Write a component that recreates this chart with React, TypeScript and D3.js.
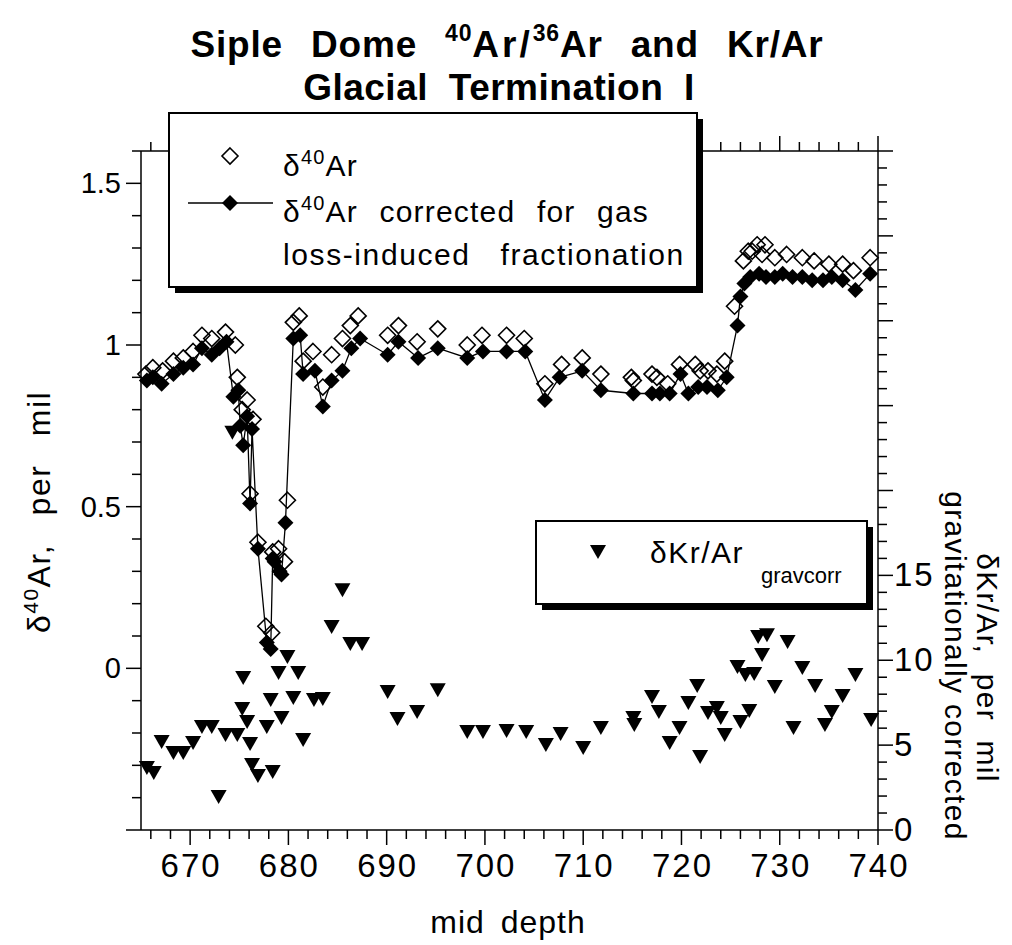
import React from "react";
import * as d3 from "d3";

// δ40Ar (uncorrected) – open diamonds
const rawDepth = [665.5, 666.2, 667.2, 668.3, 669.3, 670.3, 671.2, 672.2, 673.6, 674.6, 674.8, 675.8, 675.3, 676.4, 676.1, 676.9, 677.7, 678.3, 678.4, 679.0, 679.6, 679.9, 680.5, 681.1, 681.5, 682.5, 683.5, 684.4, 685.5, 686.3, 687.1, 690.1, 691.2, 693.1, 695.2, 698.2, 699.7, 702.2, 704.0, 706.1, 707.8, 709.9, 711.8, 714.9, 715.1, 717.0, 717.5, 718.6, 719.8, 721.4, 721.9, 722.7, 723.6, 724.4, 725.4, 726.3, 726.8, 727.2, 727.7, 728.2, 728.5, 729.5, 730.7, 732.3, 733.5, 735.0, 736.4, 737.5, 739.2];
const rawD40 = [0.91, 0.93, 0.92, 0.95, 0.96, 0.98, 1.03, 1.02, 1.04, 1.0, 0.9, 0.83, 0.8, 0.77, 0.54, 0.39, 0.13, 0.11, 0.36, 0.37, 0.33, 0.52, 1.07, 1.09, 0.95, 0.98, 0.87, 0.97, 1.02, 1.06, 1.09, 1.03, 1.06, 1.01, 1.05, 1.0, 1.03, 1.03, 1.02, 0.88, 0.94, 0.96, 0.91, 0.9, 0.89, 0.91, 0.9, 0.88, 0.94, 0.94, 0.92, 0.92, 0.91, 0.95, 1.12, 1.26, 1.29, 1.29, 1.31, 1.28, 1.31, 1.27, 1.28, 1.27, 1.26, 1.25, 1.25, 1.23, 1.27];

// δ40Ar corrected – filled diamonds joined by a line (data order)
const corrDepth = [665.6, 666.2, 667.1, 668.3, 669.3, 670.3, 671.2, 672.2, 673.0, 673.7, 674.4, 674.9, 675.1, 675.4, 675.8, 676.1, 676.3, 676.9, 677.8, 678.2, 678.4, 678.6, 679.1, 679.3, 679.7, 680.5, 681.2, 681.5, 682.7, 683.5, 684.4, 685.5, 686.4, 687.3, 690.1, 691.2, 693.2, 695.2, 698.2, 699.8, 702.2, 704.1, 706.1, 707.6, 709.9, 711.8, 715.1, 717.0, 717.8, 718.8, 719.9, 720.7, 721.7, 722.6, 723.7, 724.6, 725.7, 726.0, 726.4, 727.0, 727.9, 728.6, 729.5, 730.3, 731.3, 732.3, 733.3, 734.4, 735.3, 736.4, 737.7, 739.2];
const corrD40 = [0.89, 0.9, 0.88, 0.91, 0.93, 0.94, 0.99, 0.97, 0.99, 1.01, 0.84, 0.86, 0.75, 0.69, 0.78, 0.51, 0.74, 0.37, 0.08, 0.06, 0.34, 0.33, 0.3, 0.29, 0.45, 1.02, 1.03, 0.91, 0.92, 0.81, 0.89, 0.92, 0.99, 1.02, 0.97, 1.01, 0.96, 0.99, 0.96, 0.98, 0.98, 0.98, 0.83, 0.9, 0.92, 0.86, 0.85, 0.85, 0.85, 0.85, 0.91, 0.85, 0.87, 0.87, 0.86, 0.9, 1.06, 1.15, 1.19, 1.21, 1.22, 1.21, 1.21, 1.22, 1.21, 1.21, 1.2, 1.2, 1.21, 1.2, 1.17, 1.22];

// δKr/Ar gravcorr – triangles (right axis)
const krDepth = [665.6, 666.3, 667.1, 668.3, 669.3, 670.3, 671.2, 672.2, 672.9, 673.6, 674.3, 674.8, 675.3, 675.4, 675.8, 676.1, 676.3, 676.9, 677.8, 678.2, 678.4, 679.0, 679.3, 679.9, 680.5, 681.0, 681.5, 682.6, 683.5, 684.4, 685.5, 686.3, 687.5, 690.1, 691.1, 693.1, 695.2, 698.2, 699.8, 702.2, 704.2, 706.2, 707.7, 710.0, 711.8, 715.1, 715.2, 717.0, 717.7, 718.8, 719.8, 720.7, 721.6, 721.9, 722.7, 723.6, 724.0, 724.4, 725.7, 726.0, 726.5, 726.9, 727.4, 727.8, 728.2, 728.7, 729.5, 730.8, 731.4, 732.3, 733.6, 734.6, 735.3, 736.4, 737.7, 739.3];
const krAr = [3.65, 3.36, 5.18, 4.53, 4.53, 5.12, 6.07, 6.07, 1.94, 5.59, 23.4, 5.59, 7.13, 8.95, 6.36, 5.06, 3.83, 3.18, 6.07, 7.66, 3.42, 9.25, 6.6, 10.19, 7.77, 9.25, 5.3, 7.66, 7.71, 11.96, 14.13, 10.95, 10.95, 8.13, 6.54, 6.95, 8.24, 5.77, 5.77, 5.83, 5.77, 5.01, 5.65, 4.83, 6.01, 6.6, 6.18, 7.83, 6.95, 5.12, 6.01, 7.48, 8.48, 4.3, 6.89, 7.18, 6.6, 5.59, 9.6, 6.36, 9.13, 7.01, 9.19, 11.37, 10.31, 11.48, 8.42, 11.07, 6.01, 9.54, 8.48, 6.18, 6.95, 7.89, 9.13, 6.48];

// axes ticks & labels
const xTicks = d3.range(666, 741, 2);
const xLabels = [670, 680, 690, 700, 710, 720, 730, 740];
const yLTicks = d3.range(-5, 17).map((v) => v / 10);
const yLLabels = [0, 0.5, 1, 1.5];
const yRTicks = d3.range(0, 41);
const yRLabels = [0, 5, 10, 15];

const NARROW = "'Liberation Sans Narrow', 'Liberation Sans', Arial, sans-serif";
const REG = "'Liberation Sans', Arial, sans-serif";

export default function App() {
  const W = 1012;
  const H = 945;
  const x = d3.scaleLinear().domain([665, 740]).range([141, 878]);
  const yL = d3.scaleLinear().domain([-0.5, 1.6]).range([830, 151]);
  const yR = d3.scaleLinear().domain([0, 40]).range([830, 151]);
  const [x0, x1] = x.range();
  const [yb, yt] = yL.range();

  const diamond = "M0,-8L8,0L0,8L-8,0Z";
  const tri = "M-8,-7L8,-7L0,7Z";
  const idx = d3.range(corrDepth.length);
  const linePath = d3
    .line<number>()
    .x((i) => x(corrDepth[i]))
    .y((i) => yL(corrD40[i]))(idx) as string;

  const isMajorX = (v: number) => v % 10 === 0;
  const isMajorL = (v: number) => Math.abs(Math.round(v * 10) % 5) === 0;
  const fmtL = (v: number) => (v === 0 ? "0" : v === 1 ? "1" : String(v));

  return (
    <svg
      width={W}
      height={H}
      style={{ position: "absolute", left: 0, top: 0, background: "#fff" }}
      fontFamily={REG}
    >
      <rect x={0} y={0} width={W} height={H} fill="#fff" />
      {/* title */}
      <text x={507} y={57} textAnchor="middle" fontFamily={NARROW} fontWeight="bold" fontSize={37} letterSpacing={0.8} wordSpacing={17}>
        Siple Dome{" "}
        <tspan dy={-16} fontSize={23}>40</tspan>
        <tspan dy={16} letterSpacing={3}>Ar/</tspan>
        <tspan dy={-16} fontSize={23}>36</tspan>
        <tspan dy={16}>Ar and Kr/Ar</tspan>
      </text>
      <text x={499} y={100} textAnchor="middle" fontFamily={NARROW} fontWeight="bold" fontSize={37} letterSpacing={0.5} wordSpacing={10}>
        Glacial Termination I
      </text>

      {/* axes lines */}
      <g stroke="#000" strokeWidth={1.5} fill="none">
        <line x1={x0} x2={x1} y1={yb} y2={yb} />
        <line x1={x0} x2={x1} y1={yt} y2={yt} />
        <line x1={x0} x2={x0} y1={yb} y2={yt} />
        <line x1={x1} x2={x1} y1={yb} y2={yt} />
        {xTicks.map((t) => (
          <g key={"xt" + t}>
            <line x1={x(t)} x2={x(t)} y1={yb} y2={yb + (isMajorX(t) ? 15 : 9)} />
            <line x1={x(t)} x2={x(t)} y1={yt} y2={yt - (isMajorX(t) ? 15 : 9)} />
          </g>
        ))}
        {yLTicks.map((t) => (
          <line key={"yl" + t} x1={x0} x2={x0 - (isMajorL(t) ? 15 : 9)} y1={yL(t)} y2={yL(t)} />
        ))}
        {yRTicks.map((t) => (
          <line key={"yr" + t} x1={x1} x2={x1 + (t % 5 === 0 ? 15 : 9)} y1={yR(t)} y2={yR(t)} />
        ))}
      </g>

      {/* tick labels */}
      <g fontFamily={NARROW} fontSize={33} letterSpacing={2}>
        {xLabels.map((t) => (
          <text key={"xl" + t} x={x(t) + 1} y={877} textAnchor="middle">
            {t}
          </text>
        ))}
        {yRLabels.map((t) => (
          <text key={"rl" + t} x={x1 + 16} y={yR(t) + 11}>
            {t}
          </text>
        ))}
      </g>
      <g fontFamily={REG} fontSize={29}>
        {yLLabels.map((t) => (
          <text key={"ll" + t} x={121} y={yL(t) + 10} textAnchor="end">
            {fmtL(t)}
          </text>
        ))}
      </g>

      {/* axis titles */}
      <text transform="translate(50,512) rotate(-90)" textAnchor="middle" fontSize={32} letterSpacing={1.5} wordSpacing={18}>
        δ<tspan dy={-12} fontSize={21}>40</tspan>
        <tspan dy={12}>Ar, per mil</tspan>
      </text>
      <text transform="translate(977,668) rotate(90)" textAnchor="middle" fontSize={30} wordSpacing={10} letterSpacing={1.3}>
        δKr/Ar, per mil
      </text>
      <text transform="translate(945,666) rotate(90)" textAnchor="middle" fontSize={30} letterSpacing={1.3}>
        gravitationally corrected
      </text>
      <text x={508} y={933} textAnchor="middle" fontFamily={NARROW} fontSize={32} letterSpacing={1} wordSpacing={6}>
        mid depth
      </text>

      {/* data */}
      <g>
        {rawDepth.map((d, i) => (
          <path key={"r" + i} d={diamond} transform={`translate(${x(d)},${yL(rawD40[i])})`} fill="none" stroke="#000" strokeWidth={1.6} />
        ))}
        <path d={linePath} fill="none" stroke="#000" strokeWidth={1.3} />
        {corrDepth.map((d, i) => (
          <path key={"c" + i} d={diamond} transform={`translate(${x(d)},${yL(corrD40[i])})`} fill="#000" />
        ))}
        {krDepth.map((d, i) => (
          <path key={"k" + i} d={tri} transform={`translate(${x(d)},${yR(krAr[i])})`} fill="#000" />
        ))}
      </g>

      {/* legend 1 */}
      <g>
        <rect x={175} y={119} width={528} height={174} fill="#000" />
        <rect x={169} y={113} width={528} height={174} fill="#fff" stroke="#000" strokeWidth={2} />
        <path d={diamond} transform="translate(230,156)" fill="none" stroke="#000" strokeWidth={1.6} />
        <line x1={188} x2={273} y1={203} y2={203} stroke="#000" strokeWidth={1.3} />
        <path d={diamond} transform="translate(230,203)" fill="#000" />
        <g fontSize={30} letterSpacing={1.2} wordSpacing={12}>
          <text x={283} y={176}>
            δ<tspan dy={-12} fontSize={20}>40</tspan>
            <tspan dy={12}>Ar</tspan>
          </text>
          <text x={283} y={222}>
            δ<tspan dy={-12} fontSize={20}>40</tspan>
            <tspan dy={12}>Ar corrected for gas</tspan>
          </text>
          <text x={283} y={265} letterSpacing={1.6} wordSpacing={20}>
            loss-induced fractionation
          </text>
        </g>
      </g>

      {/* legend 2 */}
      <g>
        <rect x={542} y={527} width={331} height={83} fill="#000" />
        <rect x={536} y={521} width={331} height={83} fill="#fff" stroke="#000" strokeWidth={2} />
        <path d={tri} transform="translate(598,552)" fill="#000" />
        <text x={650} y={563} fontSize={30} letterSpacing={1.5}>
          δKr/Ar
        </text>
        <text x={761} y={583} fontSize={22}>
          gravcorr
        </text>
      </g>
    </svg>
  );
}
